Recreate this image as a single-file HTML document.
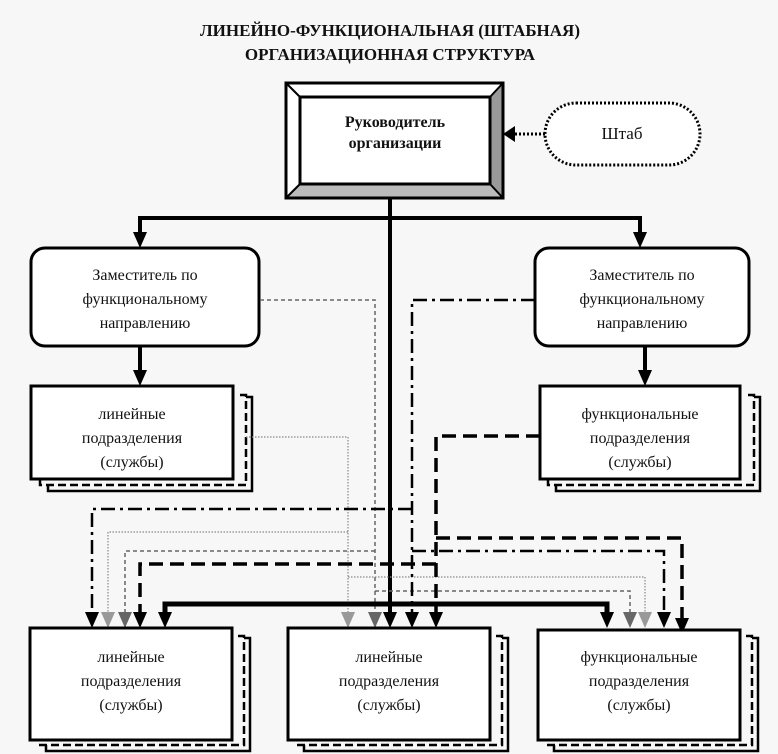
<!DOCTYPE html>
<html><head><meta charset="utf-8"><style>
html,body{margin:0;padding:0;background:#f7f7f7;}
svg{display:block;}
text{font-family:"Liberation Serif",serif;fill:#111;}
</style></head><body>
<svg width="778" height="754" viewBox="0 0 778 754" xmlns="http://www.w3.org/2000/svg">
<rect width="778" height="754" fill="#f7f7f7"/>
<text x="390" y="36" font-size="17" font-weight="bold" text-anchor="middle">ЛИНЕЙНО-ФУНКЦИОНАЛЬНАЯ (ШТАБНАЯ)</text>
<text x="390" y="60" font-size="17" font-weight="bold" text-anchor="middle">ОРГАНИЗАЦИОННАЯ СТРУКТУРА</text>

<rect x="286" y="83" width="217" height="115" fill="#fff" stroke="#000" stroke-width="3"/>
<polygon points="490,97 503,83 503,198 490,184" fill="#999"/>
<polygon points="300,184 490,184 503,198 286,198" fill="#bbb"/>
<line x1="286" y1="83" x2="300" y2="97" stroke="#000" stroke-width="2"/>
<line x1="503" y1="83" x2="490" y2="97" stroke="#000" stroke-width="2"/>
<line x1="286" y1="198" x2="300" y2="184" stroke="#000" stroke-width="2"/>
<line x1="503" y1="198" x2="490" y2="184" stroke="#000" stroke-width="2"/>
<rect x="300" y="97" width="190" height="87" fill="#fff" stroke="#000" stroke-width="3"/>
<rect x="286" y="83" width="217" height="115" fill="none" stroke="#000" stroke-width="3"/>
<text x="395" y="127" font-size="16" font-weight="bold" text-anchor="middle">Руководитель</text>
<text x="395" y="148" font-size="16" font-weight="bold" text-anchor="middle">организации</text>

<rect x="545" y="103" width="155" height="62" rx="31" fill="#fff" stroke="#000" stroke-width="3" stroke-dasharray="2,2"/>
<text x="622" y="139" font-size="17" text-anchor="middle">Штаб</text>
<line x1="545" y1="134" x2="515" y2="134" stroke="#000" stroke-width="3" stroke-dasharray="2,2"/>
<path d="M515,126 L503,134 L515,142 Z" fill="#000"/>

<line x1="390" y1="198" x2="390" y2="612" stroke="#000" stroke-width="4"/>
<polyline points="140,232 140,218 640,218 640,232" fill="none" stroke="#000" stroke-width="4"/>
<path d="M133,232 L147,232 L140,248 Z M633,232 L647,232 L640,248 Z" fill="#000"/>

<rect x="31" y="248" width="228" height="98" rx="14" fill="#fff" stroke="#000" stroke-width="3"/>
<text x="145" y="280" font-size="16" text-anchor="middle">Заместитель по</text>
<text x="145" y="304" font-size="16" text-anchor="middle">функциональному</text>
<text x="145" y="328" font-size="16" text-anchor="middle">направлению</text>
<rect x="535" y="248" width="214" height="98" rx="14" fill="#fff" stroke="#000" stroke-width="3"/>
<text x="642" y="280" font-size="16" text-anchor="middle">Заместитель по</text>
<text x="642" y="304" font-size="16" text-anchor="middle">функциональному</text>
<text x="642" y="328" font-size="16" text-anchor="middle">направлению</text>

<line x1="140" y1="346" x2="140" y2="370" stroke="#000" stroke-width="4"/>
<path d="M133,370 L147,370 L140,386 Z" fill="#000"/>
<line x1="645" y1="346" x2="645" y2="370" stroke="#000" stroke-width="4"/>
<path d="M638,370 L652,370 L645,386 Z" fill="#000"/>

<g fill="none" stroke="#000" stroke-width="2.5">
<polyline points="240,395 246,395 246,485 40,485 40,480" stroke-dasharray="8,4"/>
<polyline points="246,397 252,397 252,491 48,491 48,485"/>
<polyline points="748,395 754,395 754,485 548,485 548,480" stroke-dasharray="8,4"/>
<polyline points="754,397 760,397 760,491 556,491 556,485"/>
</g>
<rect x="31" y="386" width="202" height="93" fill="#fff" stroke="#000" stroke-width="3"/>
<text x="132" y="419" font-size="16" text-anchor="middle">линейные</text>
<text x="132" y="443" font-size="16" text-anchor="middle">подразделения</text>
<text x="132" y="467" font-size="16" text-anchor="middle">(службы)</text>
<rect x="540" y="386" width="200" height="93" fill="#fff" stroke="#000" stroke-width="3"/>
<text x="640" y="419" font-size="16" text-anchor="middle">функциональные</text>
<text x="640" y="443" font-size="16" text-anchor="middle">подразделения</text>
<text x="640" y="467" font-size="16" text-anchor="middle">(службы)</text>

<g fill="none">
<polyline points="260,300 375,300 375,612" stroke="#666" stroke-width="1.5" stroke-dasharray="4,3"/>
<polyline points="375,551 125,551 125,612" stroke="#666" stroke-width="1.5" stroke-dasharray="4,3"/>
<polyline points="375,591 630,591 630,612" stroke="#666" stroke-width="1.5" stroke-dasharray="4,3"/>
<polyline points="246,437 348,437 348,612" stroke="#888" stroke-width="1.2" stroke-dasharray="1.5,1.5"/>
<polyline points="348,532 108,532 108,612" stroke="#888" stroke-width="1.2" stroke-dasharray="1.5,1.5"/>
<polyline points="348,577 645,577 645,612" stroke="#888" stroke-width="1.2" stroke-dasharray="1.5,1.5"/>
<polyline points="535,300 412,300 412,612" stroke="#000" stroke-width="2.5" stroke-dasharray="14,5,3,5"/>
<polyline points="412,509 92,509 92,612" stroke="#000" stroke-width="2.5" stroke-dasharray="14,5,3,5"/>
<polyline points="412,551 664,551 664,612" stroke="#000" stroke-width="2.5" stroke-dasharray="14,5,3,5"/>
<polyline points="540,436 436,436 436,612" stroke="#000" stroke-width="3.5" stroke-dasharray="14,7"/>
<polyline points="436,564 140,564 140,612" stroke="#000" stroke-width="3.5" stroke-dasharray="14,7"/>
<polyline points="436,538 682,538 682,618" stroke="#000" stroke-width="3.5" stroke-dasharray="14,7"/>
<polyline points="165,612 165,604 607,604 607,612" stroke="#000" stroke-width="5"/>
</g>
<g>
<path d="M85,612 L99,612 L92,628 Z M133,612 L147,612 L140,628 Z M158,612 L172,612 L165,628 Z M383,612 L397,612 L390,628 Z M405,612 L419,612 L412,628 Z M429,612 L443,612 L436,628 Z M600,612 L614,612 L607,628 Z M657,612 L671,612 L664,628 Z M675,618 L689,618 L682,634 Z" fill="#000"/>
<path d="M101,612 L115,612 L108,628 Z M341,612 L355,612 L348,628 Z M638,612 L652,612 L645,628 Z" fill="#999"/>
<path d="M118,612 L132,612 L125,628 Z M368,612 L382,612 L375,628 Z M623,612 L637,612 L630,628 Z" fill="#666"/>
</g>

<g fill="none" stroke="#000" stroke-width="2.5">
<polyline points="238,636 244,636 244,745 38,745" stroke-dasharray="8,4"/>
<polyline points="244,638 250,638 250,751 46,751 46,745"/>
<polyline points="496,636 502,636 502,745 296,745" stroke-dasharray="8,4"/>
<polyline points="502,638 508,638 508,751 304,751 304,745"/>
<polyline points="746,636 752,636 752,745 546,745" stroke-dasharray="8,4"/>
<polyline points="752,638 758,638 758,751 554,751 554,745"/>
</g>
<rect x="30" y="628" width="202" height="112" fill="#fff" stroke="#000" stroke-width="3"/>
<text x="131" y="662" font-size="16" text-anchor="middle">линейные</text>
<text x="131" y="686" font-size="16" text-anchor="middle">подразделения</text>
<text x="131" y="710" font-size="16" text-anchor="middle">(службы)</text>
<rect x="288" y="628" width="202" height="112" fill="#fff" stroke="#000" stroke-width="3"/>
<text x="389" y="662" font-size="16" text-anchor="middle">линейные</text>
<text x="389" y="686" font-size="16" text-anchor="middle">подразделения</text>
<text x="389" y="710" font-size="16" text-anchor="middle">(службы)</text>
<rect x="538" y="630" width="202" height="110" fill="#fff" stroke="#000" stroke-width="3"/>
<text x="639" y="662" font-size="16" text-anchor="middle">функциональные</text>
<text x="639" y="686" font-size="16" text-anchor="middle">подразделения</text>
<text x="639" y="710" font-size="16" text-anchor="middle">(службы)</text>
</svg>
</body></html>
